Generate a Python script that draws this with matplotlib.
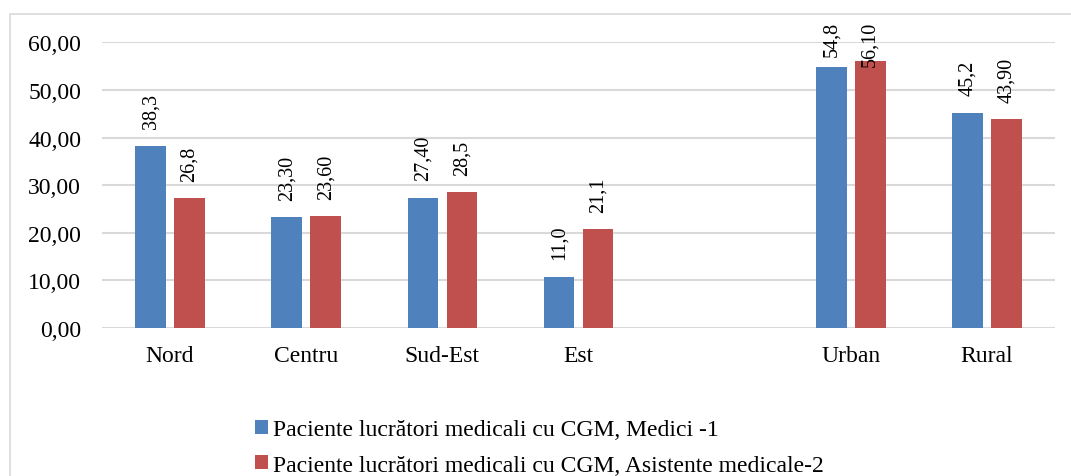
import matplotlib.pyplot as plt
import matplotlib.patches as mpatches
import numpy as np

plt.rcParams['font.family'] = ['Liberation Serif', 'DejaVu Serif']

# categories (empty slot between Est and Urban)
categories = ['Nord', 'Centru', 'Sud-Est', 'Est', '', 'Urban', 'Rural']
medici = [38.3, 23.3, 27.4, 10.8, None, 54.8, 45.2]
asistente = [27.2, 23.5, 28.5, 20.7, None, 56.1, 43.9]
medici_labels = ['38,3', '23,30', '27,40', '11,0', '', '54,8', '45,2']
asistente_labels = ['26,8', '23,60', '28,5', '21,1', '', '56,10', '43,90']
series_names = ['Paciente lucrători medicali cu CGM, Medici -1',
                'Paciente lucrători medicali cu CGM, Asistente medicale-2']
yticks = [0, 10, 20, 30, 40, 50, 60]

blue = '#4F81BD'
red = '#C0504D'
grid_c = '#D9D9D9'

fig = plt.figure(figsize=(10.71, 4.77), dpi=100)
ax = fig.add_axes([102 / 1071, 1 - 329 / 477, 953 / 1071, 285.7 / 477])

# outer chart border
border = mpatches.Rectangle((9.6 / 1071, -0.05), 1.2, 1 - 14.7 / 477 + 0.05,
                            transform=fig.transFigure, fill=False,
                            edgecolor=grid_c, linewidth=1.2)
fig.patches.append(border)

x = np.arange(len(categories))
w = 0.225
off = 0.143

handles = []
for vals, labs, color, sign in [(medici, medici_labels, blue, -1),
                                (asistente, asistente_labels, red, 1)]:
    xs = [xi + sign * off for xi, v in zip(x, vals) if v is not None]
    hs = [v for v in vals if v is not None]
    ls = [l for l, v in zip(labs, vals) if v is not None]
    b = ax.bar(xs, hs, width=w, color=color, zorder=3)
    handles.append(b)
    for xi, h, l in zip(xs, hs, ls):
        if h > 50:
            ax.text(xi, 64.5, l, rotation=90, ha='center', va='top',
                    fontsize=14.5, zorder=5, clip_on=False)
        else:
            ax.annotate(l, (xi, h), xytext=(0, 12.5), textcoords='offset points',
                        rotation=90, ha='center', va='bottom', fontsize=14.5,
                        zorder=5)

ax.set_xlim(-0.5, len(categories) - 0.5)
ax.set_ylim(0, 60)
ax.set_yticks(yticks)
ax.set_yticklabels(['%d,00' % t for t in yticks], fontsize=17)
ax.set_xticks(x)
ax.set_xticklabels(categories, fontsize=17)
ax.tick_params(axis='y', length=0, pad=15)
ax.tick_params(axis='x', length=0, pad=12)
ax.yaxis.grid(True, color=grid_c, linewidth=1.5, zorder=0)
ax.set_axisbelow(True)
for s in ax.spines.values():
    s.set_visible(False)

fig.legend(handles, series_names, loc='upper left',
           bbox_to_anchor=(246 / 1071, 1 - 411 / 477), frameon=False,
           fontsize=17, handlelength=0.55, handleheight=0.55,
           handletextpad=0.2, labelspacing=0.6, borderaxespad=0)

fig.savefig('out.png', dpi=100)
